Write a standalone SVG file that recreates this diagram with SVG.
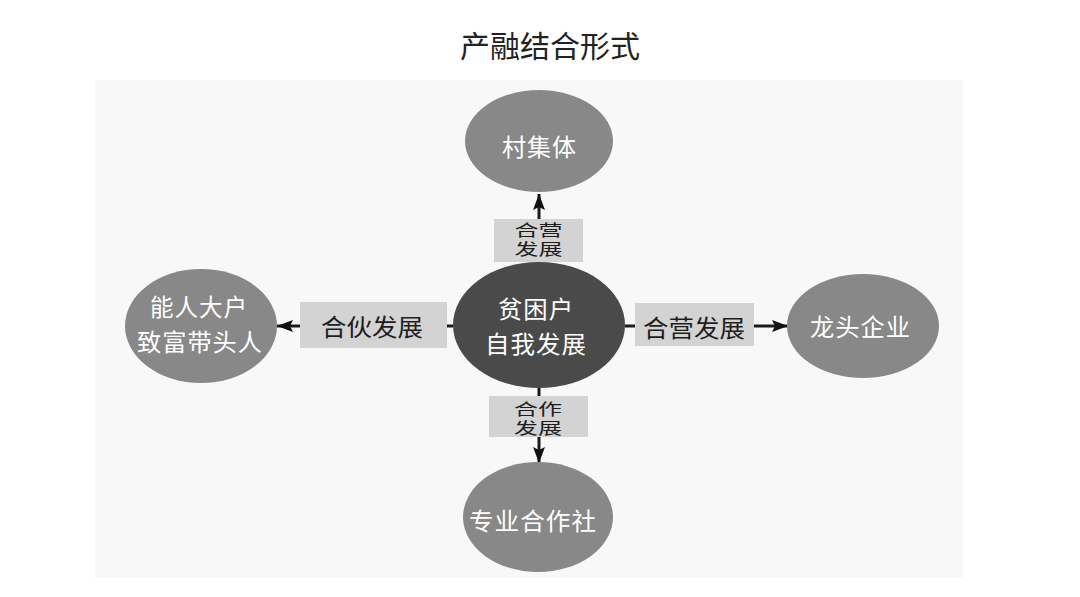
<svg xmlns="http://www.w3.org/2000/svg" width="1080" height="597" viewBox="0 0 1080 597">
<defs>
<style>
.t{font-family:"Liberation Sans","Noto Sans CJK SC",sans-serif;text-anchor:middle}
.w{fill:#ffffff;font-size:24px;letter-spacing:1px}
.d{fill:#1e1e1e;font-size:24px}
.s{fill:#1e1e1e;font-size:16px}
.outer{fill:#888888}
.box{fill:#d3d3d3}
.con{stroke:#1a1a1a;stroke-width:3;fill:none}
</style>
<marker id="ah" markerUnits="userSpaceOnUse" markerWidth="18" markerHeight="14" refX="16" refY="7" orient="auto">
<path d="M0,1 L16,7 L0,13 L3,7 z" fill="#111"/>
</marker>
</defs>
<rect width="1080" height="597" fill="#ffffff"/>
<text x="550" y="57" style="font-family:'Liberation Serif','Noto Sans CJK SC',serif;font-size:30px;fill:#222;text-anchor:middle">产融结合形式</text>
<rect x="95" y="80" width="868" height="498" fill="#f8f8f8"/>
<g id="connectors">
<line class="con" x1="539" y1="262" x2="539" y2="194" marker-end="url(#ah)"/>
<line class="con" x1="453" y1="326" x2="277" y2="326" marker-end="url(#ah)"/>
<line class="con" x1="625" y1="326" x2="788" y2="326" marker-end="url(#ah)"/>
<line class="con" x1="539" y1="388" x2="539" y2="463" marker-end="url(#ah)"/>
</g>
<g id="label-top">
<rect class="box" x="494" y="219" width="89" height="43"/>
<text class="t s" x="538.5" y="236" textLength="48" lengthAdjust="spacingAndGlyphs">合营</text>
<text class="t s" x="538.5" y="255" textLength="48" lengthAdjust="spacingAndGlyphs">发展</text>
</g>
<g id="label-left">
<rect class="box" x="300" y="302" width="147" height="46"/>
<text class="t d" x="372" y="336" textLength="102" lengthAdjust="spacingAndGlyphs">合伙发展</text>
</g>
<g id="label-right">
<rect class="box" x="635" y="303" width="119" height="43"/>
<text class="t d" x="694" y="337" textLength="102" lengthAdjust="spacingAndGlyphs">合营发展</text>
</g>
<g id="label-bottom">
<rect class="box" x="489" y="396" width="99" height="41"/>
<text class="t s" x="538" y="415" textLength="48" lengthAdjust="spacingAndGlyphs">合作</text>
<text class="t s" x="538" y="434" textLength="48" lengthAdjust="spacingAndGlyphs">发展</text>
</g>
<g id="node-center">
<ellipse cx="539" cy="325" rx="86" ry="63" fill="#4a4a4a"/>
<text class="t w" x="536" y="318" textLength="76" lengthAdjust="spacingAndGlyphs">贫困户</text>
<text class="t w" x="536" y="353" textLength="102" lengthAdjust="spacingAndGlyphs">自我发展</text>
</g>
<g id="node-top">
<ellipse class="outer" cx="539" cy="141" rx="74" ry="51"/>
<text class="t w" x="539.5" y="156" textLength="75" lengthAdjust="spacingAndGlyphs">村集体</text>
</g>
<g id="node-left">
<ellipse class="outer" cx="201" cy="326" rx="76" ry="57"/>
<text class="t w" x="199" y="316" textLength="98" lengthAdjust="spacingAndGlyphs">能人大户</text>
<text class="t w" x="200" y="351" textLength="126" lengthAdjust="spacingAndGlyphs">致富带头人</text>
</g>
<g id="node-right">
<ellipse class="outer" cx="863" cy="326" rx="76" ry="52"/>
<text class="t w" x="860.5" y="336" textLength="101" lengthAdjust="spacingAndGlyphs">龙头企业</text>
</g>
<g id="node-bottom">
<ellipse class="outer" cx="538" cy="517" rx="75" ry="55"/>
<text class="t w" x="533" y="530" textLength="128" lengthAdjust="spacingAndGlyphs">专业合作社</text>
</g>
</svg>
